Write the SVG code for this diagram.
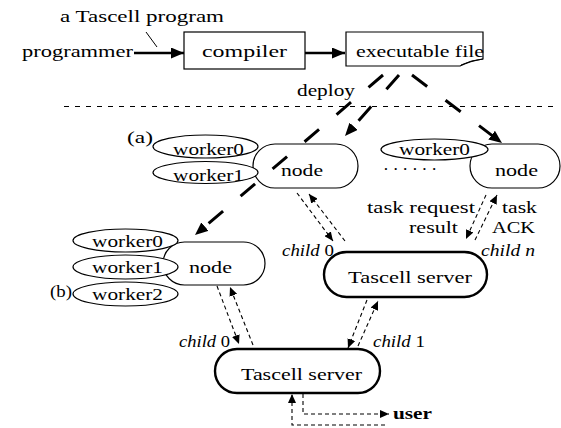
<svg xmlns="http://www.w3.org/2000/svg" width="561" height="428" viewBox="0 0 561 428">
  <style>
    text { font-family: "Liberation Serif", "Times New Roman", serif; font-size: 17.5px; fill: #000; }
    .it { font-style: italic; }
    .bold { font-weight: bold; }
    .box { fill: #fff; stroke: #000; stroke-width: 1.2; }
    .srv { fill: #fff; stroke: #000; stroke-width: 2.4; }
    .wk { fill: #fff; stroke: #000; stroke-width: 1.2; }
    .thick { fill: none; stroke: #000; stroke-width: 2.6; }
    .deploy { fill: none; stroke: #000; stroke-width: 3; stroke-dasharray: 19 23; }
    .msg { fill: none; stroke: #000; stroke-width: 1.1; stroke-dasharray: 4 3; }
    .sep { fill: none; stroke: #000; stroke-width: 1; stroke-dasharray: 5 6; }
  </style>
  <defs>
    <marker id="big" markerUnits="userSpaceOnUse" markerWidth="13" markerHeight="11" refX="13" refY="5.5" orient="auto">
      <path d="M0,0 L13,5.5 L0,11 z" fill="#000"/>
    </marker>
    <marker id="small" markerUnits="userSpaceOnUse" markerWidth="9" markerHeight="8" refX="9" refY="4" orient="auto">
      <path d="M0,0 L9,4 L0,8 z" fill="#000"/>
    </marker>
  </defs>

  <g font-family="Liberation Serif, Times New Roman, serif">
  <!-- build stage -->
  <text x="60" y="22" textLength="164" lengthAdjust="spacingAndGlyphs">a Tascell program</text>
  <line x1="146" y1="32" x2="157" y2="47" stroke="#000" stroke-width="1"/>
  <text x="22" y="57" textLength="111" lengthAdjust="spacingAndGlyphs">programmer</text>

  <g id="compiler">
    <rect class="box" x="184" y="32" width="121" height="37"/>
    <text x="202" y="57" textLength="85" lengthAdjust="spacingAndGlyphs">compiler</text>
  </g>

  <g id="executable">
    <path class="box" d="M346,32 H483 V59 Q470,61 460,66 H346 Z"/>
    <path d="M461,65 Q471,60 483,59" fill="none" stroke="#000" stroke-width="1"/>
    <text x="356" y="57" textLength="128" lengthAdjust="spacingAndGlyphs">executable file</text>
  </g>

  <text x="297" y="96" textLength="58" lengthAdjust="spacingAndGlyphs">deploy</text>
  <line class="sep" x1="64" y1="106.5" x2="557" y2="106.5"/>

  <!-- node (a) with two workers -->
  <g id="node-a">
    <rect class="box" x="253" y="144" width="105" height="44" rx="22" ry="22"/>
    <ellipse class="wk" cx="205.5" cy="146.5" rx="52.5" ry="11.5"/>
    <ellipse class="wk" cx="205.5" cy="172.5" rx="52.5" ry="11"/>
    <text x="173" y="155" textLength="71" lengthAdjust="spacingAndGlyphs">worker0</text>
    <text x="173" y="181" textLength="71" lengthAdjust="spacingAndGlyphs">worker1</text>
    <text x="281" y="176" textLength="42" lengthAdjust="spacingAndGlyphs">node</text>
    <text x="127" y="143" textLength="26" lengthAdjust="spacingAndGlyphs">(a)</text>
  </g>

  <!-- node n -->
  <g id="node-n">
    <rect class="box" x="470" y="144" width="90" height="44" rx="22" ry="22"/>
    <ellipse class="wk" cx="434.5" cy="149.5" rx="53.5" ry="10.5"/>
    <text x="399" y="155" textLength="71" lengthAdjust="spacingAndGlyphs">worker0</text>
    <text x="495" y="176" textLength="43" lengthAdjust="spacingAndGlyphs">node</text>
    <text x="383" y="175" textLength="54" lengthAdjust="spacing">······</text>
  </g>

  <!-- node (b) with three workers -->
  <g id="node-b">
    <rect class="box" x="163" y="242" width="102" height="43" rx="21.5" ry="21.5"/>
    <ellipse class="wk" cx="125.5" cy="240.5" rx="52.5" ry="11.5"/>
    <ellipse class="wk" cx="125.5" cy="267" rx="52.5" ry="12"/>
    <ellipse class="wk" cx="125.5" cy="294" rx="52.5" ry="12"/>
    <text x="92" y="247" textLength="71" lengthAdjust="spacingAndGlyphs">worker0</text>
    <text x="92" y="273" textLength="71" lengthAdjust="spacingAndGlyphs">worker1</text>
    <text x="92" y="300" textLength="71" lengthAdjust="spacingAndGlyphs">worker2</text>
    <text x="189" y="273" textLength="43" lengthAdjust="spacingAndGlyphs">node</text>
    <text x="50" y="297" textLength="22" lengthAdjust="spacingAndGlyphs">(b)</text>
  </g>

  <!-- intermediate server -->
  <g id="server-mid">
    <rect class="srv" x="324" y="252" width="163" height="45" rx="22.5" ry="22.5"/>
    <text x="348" y="283" textLength="124" lengthAdjust="spacingAndGlyphs">Tascell server</text>
  </g>

  <!-- root server -->
  <g id="server-root">
    <rect class="srv" x="215" y="349" width="165" height="44" rx="22" ry="22"/>
    <text x="241" y="380" textLength="121" lengthAdjust="spacingAndGlyphs">Tascell server</text>
  </g>

  <!-- edge labels -->
  <text x="367" y="213" textLength="108" lengthAdjust="spacingAndGlyphs">task request</text>
  <text x="502" y="213" textLength="35" lengthAdjust="spacingAndGlyphs">task</text>
  <text x="409" y="233" textLength="49" lengthAdjust="spacingAndGlyphs">result</text>
  <text x="492" y="233" textLength="43" lengthAdjust="spacingAndGlyphs">ACK</text>
  <text x="481" y="256" textLength="54" lengthAdjust="spacingAndGlyphs"><tspan class="it">child n</tspan></text>
  <text x="282" y="256" textLength="52" lengthAdjust="spacingAndGlyphs"><tspan class="it">child</tspan> 0</text>
  <text x="179" y="347" textLength="51" lengthAdjust="spacingAndGlyphs"><tspan class="it">child</tspan> 0</text>
  <text x="373" y="347" textLength="52" lengthAdjust="spacingAndGlyphs"><tspan class="it">child</tspan> 1</text>
  <text class="bold" x="393" y="419" textLength="39" lengthAdjust="spacingAndGlyphs">user</text>
  </g>

  <g id="connectors">
    <!-- build flow -->
    <line class="thick" x1="134" y1="53" x2="184" y2="53" marker-end="url(#big)"/>
    <line class="thick" x1="305" y1="53" x2="345" y2="53" marker-end="url(#big)"/>
    <!-- deployment -->
    <line class="deploy" x1="399" y1="75" x2="345" y2="136" marker-end="url(#big)"/>
    <line class="deploy" x1="383" y1="75" x2="195" y2="235" marker-end="url(#big)"/>
    <line class="deploy" x1="412" y1="75" x2="502" y2="143" marker-end="url(#big)"/>
    <!-- node (a) <-> mid server -->
    <line class="msg" x1="297" y1="193" x2="333" y2="241" marker-end="url(#small)"/>
    <line class="msg" x1="345" y1="241" x2="309" y2="194" marker-end="url(#small)"/>
    <!-- node n <-> mid server -->
    <line class="msg" x1="486" y1="195" x2="466" y2="239" marker-end="url(#small)"/>
    <line class="msg" x1="475" y1="240" x2="497" y2="195" marker-end="url(#small)"/>
    <!-- node (b) <-> root server -->
    <line class="msg" x1="217" y1="286" x2="239" y2="344" marker-end="url(#small)"/>
    <line class="msg" x1="253" y1="345" x2="230" y2="287" marker-end="url(#small)"/>
    <!-- mid server <-> root server -->
    <line class="msg" x1="367" y1="300" x2="348" y2="348" marker-end="url(#small)"/>
    <line class="msg" x1="358" y1="346" x2="378" y2="301" marker-end="url(#small)"/>
    <!-- root server <-> user -->
    <path class="msg" d="M303,394 V414 H389" marker-end="url(#small)"/>
    <path class="msg" d="M385,425 H292 V394" marker-end="url(#small)"/>
  </g>
</svg>
